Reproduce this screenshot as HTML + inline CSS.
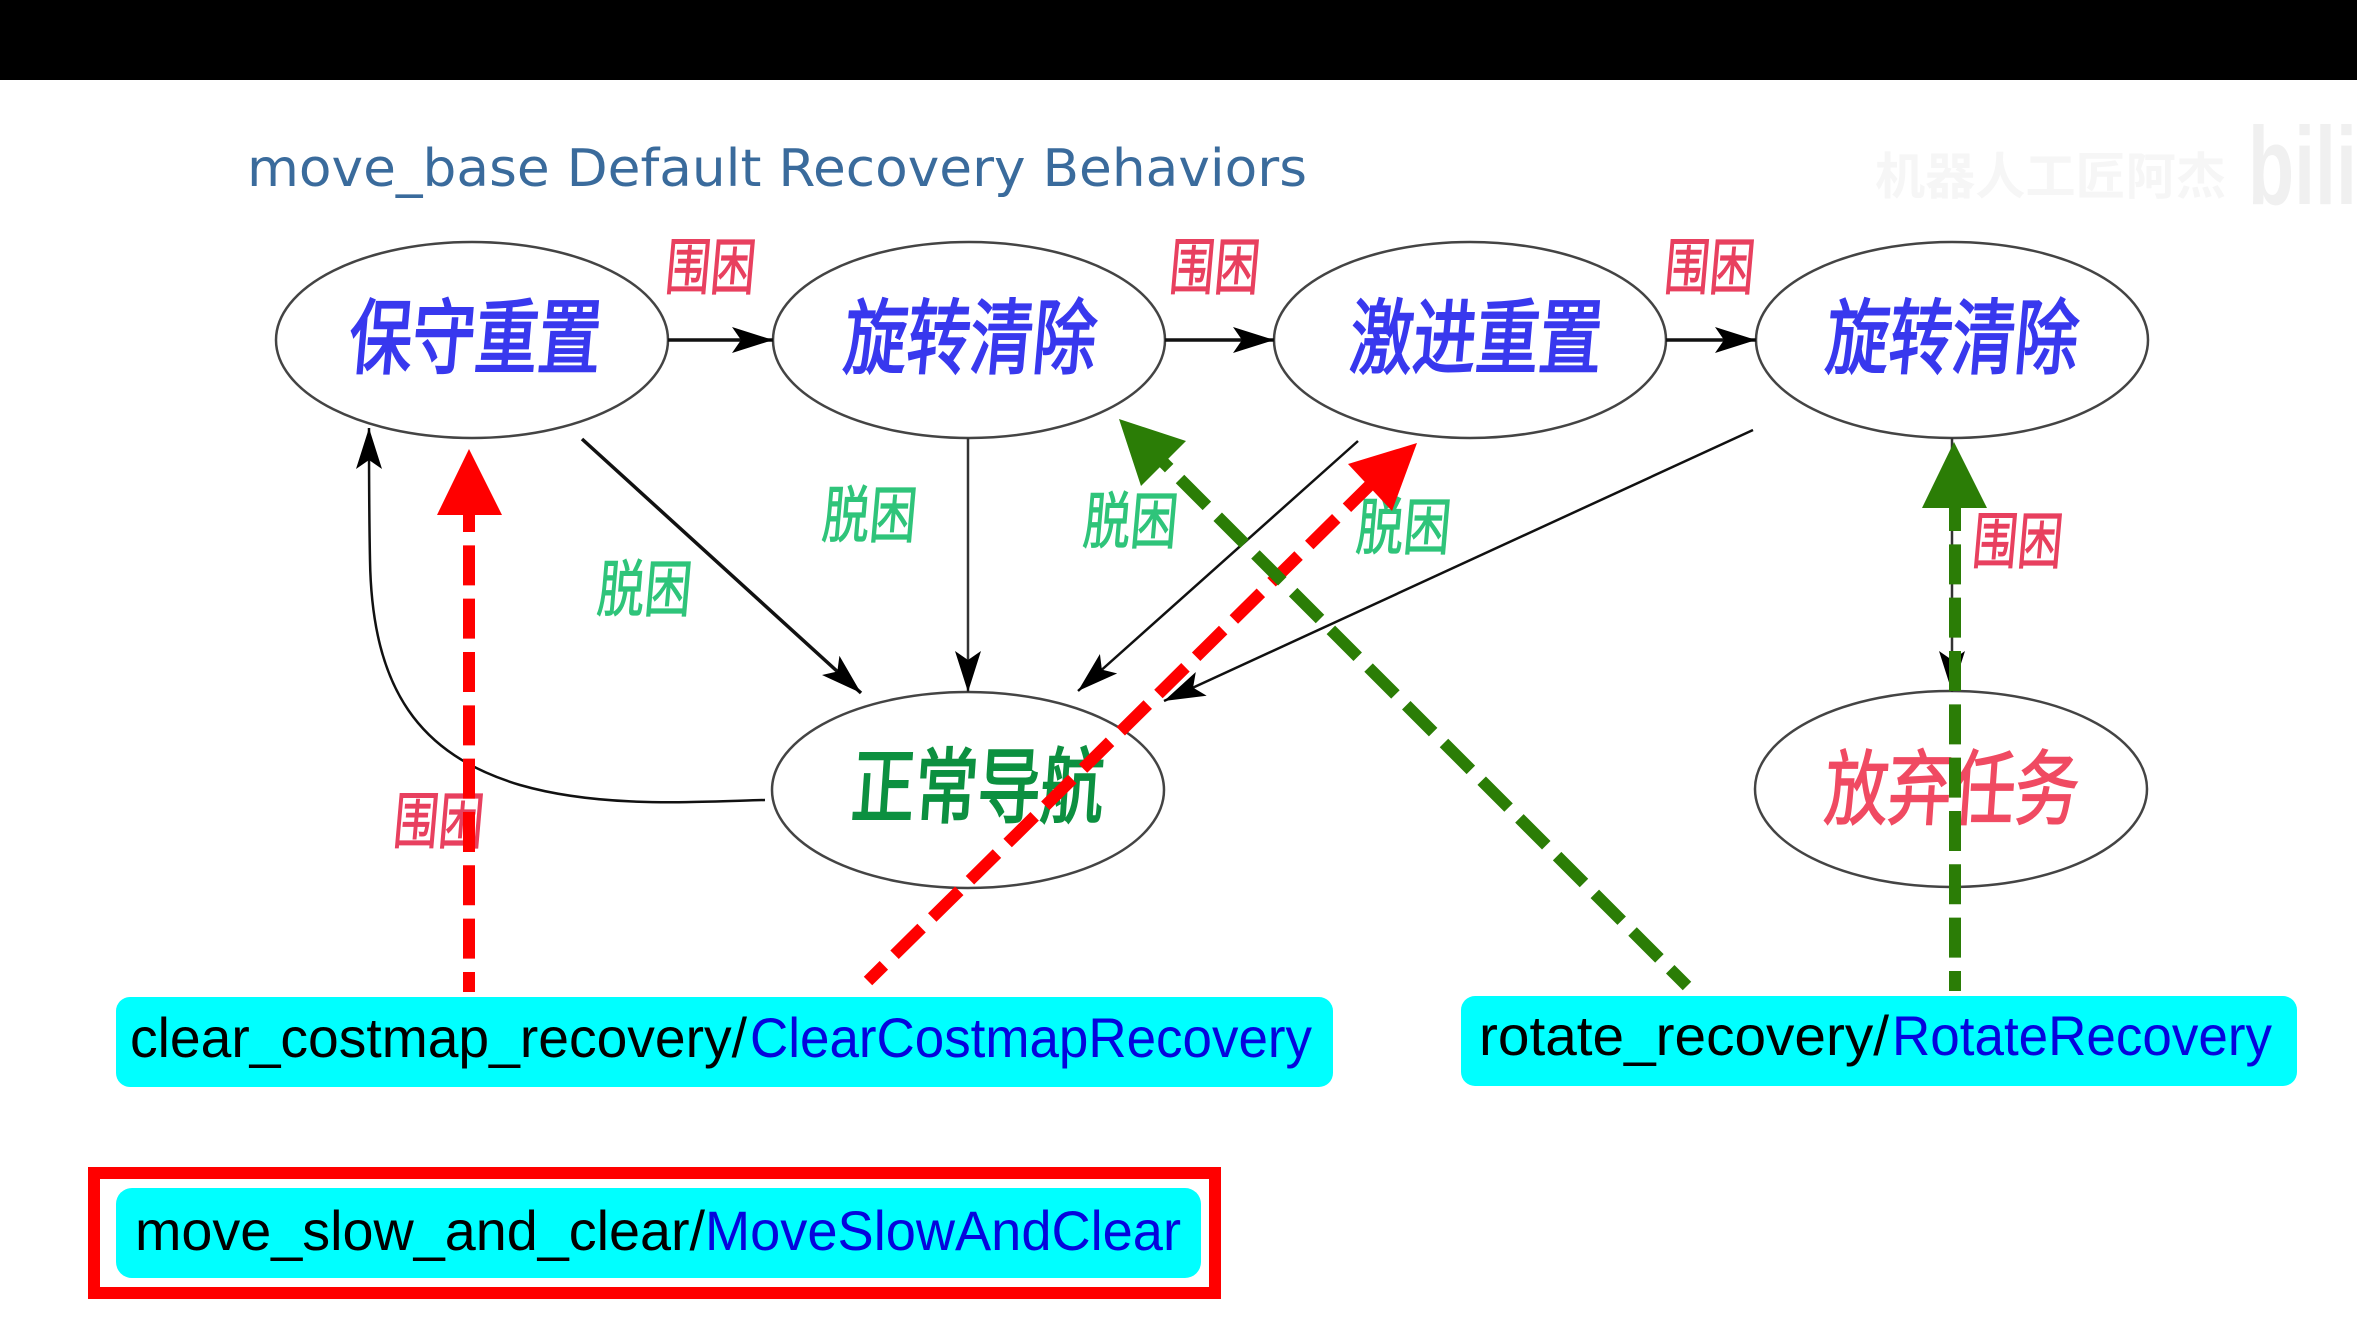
<!DOCTYPE html>
<html lang="zh">
<head>
<meta charset="utf-8">
<title>move_base Default Recovery Behaviors</title>
<style>
html,body{margin:0;padding:0;background:#fff;}
svg{display:block;}
.cjk{font-family:"Liberation Sans","Noto Sans CJK SC",sans-serif;}
.box{font-family:"Liberation Sans",sans-serif;font-size:56px;}
</style>
</head>
<body>
<svg width="2357" height="1327" viewBox="0 0 2357 1327" xmlns="http://www.w3.org/2000/svg">
<defs>
<marker id="a" viewBox="0 0 41 26" refX="41" refY="13" markerWidth="41" markerHeight="26" markerUnits="userSpaceOnUse" orient="auto"><path d="M0 0L41 13L0 26L9 13Z" fill="#000"/></marker>
</defs>
<rect width="2357" height="1327" fill="#fff"/>
<rect width="2357" height="80" fill="#000"/>

<!-- watermark -->
<text class="cjk" x="1875" y="194" font-size="50" fill="#f6f6f6" font-weight="700" textLength="351" lengthAdjust="spacingAndGlyphs">机器人工匠阿杰</text>
<text x="2248" y="204" font-family="Liberation Sans,sans-serif" font-size="110" font-weight="700" fill="#f0f0f0" textLength="109" lengthAdjust="spacingAndGlyphs">bili</text>

<!-- title -->
<text x="247" y="186" font-family="DejaVu Sans,sans-serif" font-size="52" fill="#3a6b9c" textLength="1060" lengthAdjust="spacingAndGlyphs">move_base Default Recovery Behaviors</text>

<!-- nodes -->
<g fill="none" stroke="#444" stroke-width="2.5">
<ellipse cx="472" cy="340" rx="196" ry="98"/>
<ellipse cx="969" cy="340" rx="196" ry="98"/>
<ellipse cx="1470" cy="340" rx="196" ry="98"/>
<ellipse cx="1952" cy="340" rx="196" ry="98"/>
<ellipse cx="968" cy="790" rx="196" ry="98"/>
<ellipse cx="1951" cy="789" rx="196" ry="98"/>
</g>

<!-- black edges -->
<g fill="none" stroke="#111" marker-end="url(#a)">
<path d="M668 340H773" stroke-width="3.5"/>
<path d="M1165 340H1274" stroke-width="3.5"/>
<path d="M1666 340H1756" stroke-width="3.5"/>
<path d="M582 439L861 693" stroke-width="3.5"/>
<path d="M968 438V692" stroke-width="2.5" stroke="#333"/>
<path d="M1358 441L1078 691" stroke-width="2.5"/>
<path d="M1753 430L1164 701" stroke-width="2.5"/>
<path d="M1952 438V692" stroke-width="2.5" stroke="#333"/>
<path d="M765 800C690 802 600 808 520 785C420 755 372 690 370 560C369 510 369 470 369 428" stroke-width="2.5"/>
</g>

<!-- node labels -->
<g class="cjk" font-weight="400">
<g fill="#3838ee" stroke="#3838ee" stroke-width="2.2" font-size="82">
<text transform="translate(347,367) skewX(-5)" textLength="252" lengthAdjust="spacingAndGlyphs">保守重置</text>
<text transform="translate(842,367) skewX(-5)" textLength="252" lengthAdjust="spacingAndGlyphs">旋转清除</text>
<text transform="translate(1348,367) skewX(-5)" textLength="252" lengthAdjust="spacingAndGlyphs">激进重置</text>
<text transform="translate(1824,367) skewX(-5)" textLength="252" lengthAdjust="spacingAndGlyphs">旋转清除</text>
</g>
<text transform="translate(850,816) skewX(-4)" font-size="82" fill="#0c9040" stroke="#0c9040" stroke-width="2.2" textLength="252" lengthAdjust="spacingAndGlyphs">正常导航</text>
<text transform="translate(1823,818) skewX(-4)" font-size="82" fill="#f04a62" stroke="#f04a62" stroke-width="1.6" textLength="254" lengthAdjust="spacingAndGlyphs">放弃任务</text>
</g>

<!-- edge labels -->
<g class="cjk" font-size="62" font-weight="400" fill="#e8405f" stroke="#e8405f" stroke-width="1">
<text transform="translate(664,289) skewX(-5)" textLength="90" lengthAdjust="spacingAndGlyphs">围困</text>
<text transform="translate(1168,289) skewX(-5)" textLength="90" lengthAdjust="spacingAndGlyphs">围困</text>
<text transform="translate(1663,289) skewX(-5)" textLength="90" lengthAdjust="spacingAndGlyphs">围困</text>
<text transform="translate(1971,563) skewX(-5)" textLength="90" lengthAdjust="spacingAndGlyphs">围困</text>
<text transform="translate(392,843) skewX(-5)" textLength="90" lengthAdjust="spacingAndGlyphs">围困</text>
</g>
<g class="cjk" font-size="62" font-weight="400" fill="#2fc47a" stroke="#2fc47a" stroke-width="1">
<text transform="translate(596,611) skewX(-5)" textLength="94" lengthAdjust="spacingAndGlyphs">脱困</text>
<text transform="translate(821,537) skewX(-5)" textLength="94" lengthAdjust="spacingAndGlyphs">脱困</text>
<text transform="translate(1082,543) skewX(-5)" textLength="94" lengthAdjust="spacingAndGlyphs">脱困</text>
<text transform="translate(1355,549) skewX(-5)" textLength="94" lengthAdjust="spacingAndGlyphs">脱困</text>
</g>

<!-- dashed arrows -->
<g fill="none" stroke-width="12">
<path d="M469 492V992" stroke="#ff0000" stroke-dasharray="40 13.33"/>
<path d="M868 981L1371 484" stroke="#ff0000" stroke-dasharray="38 15" stroke-dashoffset="15.7"/>
<path d="M1687 986L1163 462" stroke="#2b7d06" stroke-dasharray="38 15.33" stroke-dashoffset="14.3"/>
<path d="M1955 491V991" stroke="#2b7d06" stroke-dasharray="40 13.33"/>
</g>
<polygon points="469,449 502,515 437,515" fill="#ff0000"/>
<polygon points="1417,443 1348,464 1392,511" fill="#ff0000"/>
<polygon points="1119,419 1186,441 1141,486" fill="#2b7d06"/>
<polygon points="1954,442 1987,508 1922,508" fill="#2b7d06"/>

<!-- boxes -->
<rect x="116" y="997" width="1217" height="90" rx="14" fill="#00ffff"/>
<rect x="1461" y="996" width="836" height="90" rx="14" fill="#00ffff"/>
<rect x="94" y="1173" width="1121" height="120" fill="none" stroke="#ff0000" stroke-width="12"/>
<rect x="116" y="1188" width="1085" height="90" rx="16" fill="#00ffff"/>

<g class="box">
<text x="130" y="1057" fill="#000" textLength="617" lengthAdjust="spacingAndGlyphs">clear_costmap_recovery/</text>
<text x="750" y="1057" fill="#0505dc" textLength="562" lengthAdjust="spacingAndGlyphs">ClearCostmapRecovery</text>
<text x="1479" y="1055" fill="#000" textLength="410" lengthAdjust="spacingAndGlyphs">rotate_recovery/</text>
<text x="1892" y="1055" fill="#0505dc" textLength="380" lengthAdjust="spacingAndGlyphs">RotateRecovery</text>
<text x="135" y="1250" fill="#000" textLength="570" lengthAdjust="spacingAndGlyphs">move_slow_and_clear/</text>
<text x="705" y="1250" fill="#0505dc" textLength="476" lengthAdjust="spacingAndGlyphs">MoveSlowAndClear</text>
</g>
</svg>
</body>
</html>
